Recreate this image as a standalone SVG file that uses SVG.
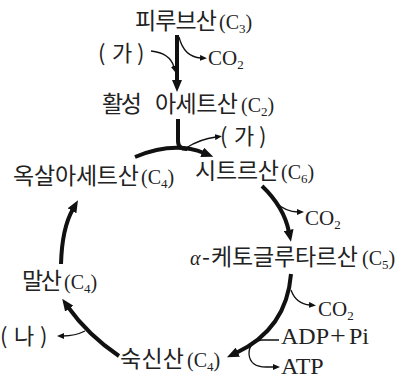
<svg xmlns="http://www.w3.org/2000/svg" width="401" height="379" viewBox="0 0 401 379">
<defs>
<style>
.k{font-family:"Noto Sans CJK KR","Noto Sans",sans-serif;font-size:23px;fill:#222}
.p{font-family:"Noto Sans CJK KR","Noto Sans",sans-serif;font-size:22px;fill:#222}
.s{font-family:"Liberation Serif","Times New Roman",serif;font-size:20px;fill:#222}
.c{font-family:"Liberation Serif","Times New Roman",serif;font-size:21px;fill:#222}
.b{font-family:"Liberation Serif","Times New Roman",serif;font-size:24px;fill:#222}
.sub{font-size:13px}
.thick{fill:none;stroke:#111;stroke-width:4}
.thin{fill:none;stroke:#111;stroke-width:1.3}
</style>
<marker id="big" markerUnits="userSpaceOnUse" markerWidth="12" markerHeight="10" refX="2" refY="5" orient="auto"><path d="M0,0 L12,5 L0,10 z" fill="#111"/></marker>
<marker id="small" markerUnits="userSpaceOnUse" markerWidth="7" markerHeight="6" refX="1" refY="3" orient="auto"><path d="M0,0 L7,3 L0,6 z" fill="#111"/></marker>
</defs>
<rect width="401" height="379" fill="#fff"/>
<g id="connectors">
<path class="thick" d="M177,35 L177,82" marker-end="url(#big)"/>
<path class="thin" d="M151,51 Q170,53 174,67" marker-end="url(#small)"/>
<path class="thin" d="M179,37 Q184,57 201,58" marker-end="url(#small)"/>
<path class="thick" d="M178,119 L178,141 Q178,149 187,149"/>
<path class="thick" d="M135,157 Q174,141 204,153" marker-end="url(#big)"/>
<path class="thin" d="M186,148 Q200,139 216,137" marker-end="url(#small)"/>
<path class="thick" d="M262,186 Q284,207 289,232" marker-end="url(#big)"/>
<path class="thin" d="M275,202 Q286,212 298,212" marker-end="url(#small)"/>
<path class="thick" d="M291,274 C288,312 268,338 236,353" marker-end="url(#big)"/>
<path class="thin" d="M291,290 Q296,304 310,305" marker-end="url(#small)"/>
<path class="thin" d="M279,340 L262,340 Q249,341 249,354 Q250,367 266,367 L274,367" marker-end="url(#small)"/>
<path class="thick" d="M119,356 Q88,335 68,307" marker-end="url(#big)"/>
<path class="thin" d="M85,331 Q75,336 63,336" marker-end="url(#small)"/>
<path class="thick" d="M61,264 Q62,228 73,209" marker-end="url(#big)"/>
</g>
<g id="pyruvate"><text y="29"><tspan class="k" x="135" textLength="82" lengthAdjust="spacing">피루브산</tspan><tspan class="s" x="219">(C</tspan><tspan class="s sub" dy="4">3</tspan><tspan class="s" dy="-4">)</tspan></text></g>
<g id="ga1"><text y="61" class="p"><tspan x="98">(</tspan><tspan x="112">가</tspan><tspan x="137">)</tspan></text></g>
<g id="co2a"><text class="c" x="208" y="65">CO<tspan class="sub" dy="4">2</tspan></text></g>
<g id="acetyl"><text y="112"><tspan class="k" x="102" textLength="40" lengthAdjust="spacing">활성</tspan><tspan class="k" x="155" textLength="83" lengthAdjust="spacing">아세트산</tspan><tspan class="s" x="241">(C</tspan><tspan class="s sub" dy="4">2</tspan><tspan class="s" dy="-4">)</tspan></text></g>
<g id="ga2"><text y="144" class="p"><tspan x="220">(</tspan><tspan x="234">가</tspan><tspan x="259">)</tspan></text></g>
<g id="oxaloacetate"><text y="184"><tspan class="k" x="13" textLength="126" lengthAdjust="spacing">옥살아세트산</tspan><tspan class="s" x="141">(C</tspan><tspan class="s sub" dy="4">4</tspan><tspan class="s" dy="-4">)</tspan></text></g>
<g id="citrate"><text y="179"><tspan class="k" x="195" textLength="84" lengthAdjust="spacing">시트르산</tspan><tspan class="s" x="281">(C</tspan><tspan class="s sub" dy="4">6</tspan><tspan class="s" dy="-4">)</tspan></text></g>
<g id="co2b"><text class="c" x="305" y="225">CO<tspan class="sub" dy="4">2</tspan></text></g>
<g id="akg"><text y="265"><tspan class="s" x="190" font-style="italic" font-size="22">α</tspan><tspan class="k" x="202">-</tspan><tspan class="k" x="211" textLength="147" lengthAdjust="spacing">케토글루타르산</tspan><tspan class="s" x="362">(C</tspan><tspan class="s sub" dy="4">5</tspan><tspan class="s" dy="-4">)</tspan></text></g>
<g id="co2c"><text class="c" x="318" y="316">CO<tspan class="sub" dy="4">2</tspan></text></g>
<g id="adp"><text class="b" y="344"><tspan x="281">ADP</tspan><tspan x="330" font-size="28" dy="1">+</tspan><tspan x="349" dy="-1">Pi</tspan></text></g>
<g id="atp"><text class="b" x="281" y="374">ATP</text></g>
<g id="succinate"><text y="367"><tspan class="k" x="120" textLength="64" lengthAdjust="spacing">숙신산</tspan><tspan class="s" x="187">(C</tspan><tspan class="s sub" dy="4">4</tspan><tspan class="s" dy="-4">)</tspan></text></g>
<g id="malate"><text y="289"><tspan class="k" x="22" textLength="40" lengthAdjust="spacing">말산</tspan><tspan class="s" x="64">(C</tspan><tspan class="s sub" dy="4">4</tspan><tspan class="s" dy="-4">)</tspan></text></g>
<g id="na"><text y="344" class="p"><tspan x="0">(</tspan><tspan x="14">나</tspan><tspan x="40">)</tspan></text></g>
</svg>
